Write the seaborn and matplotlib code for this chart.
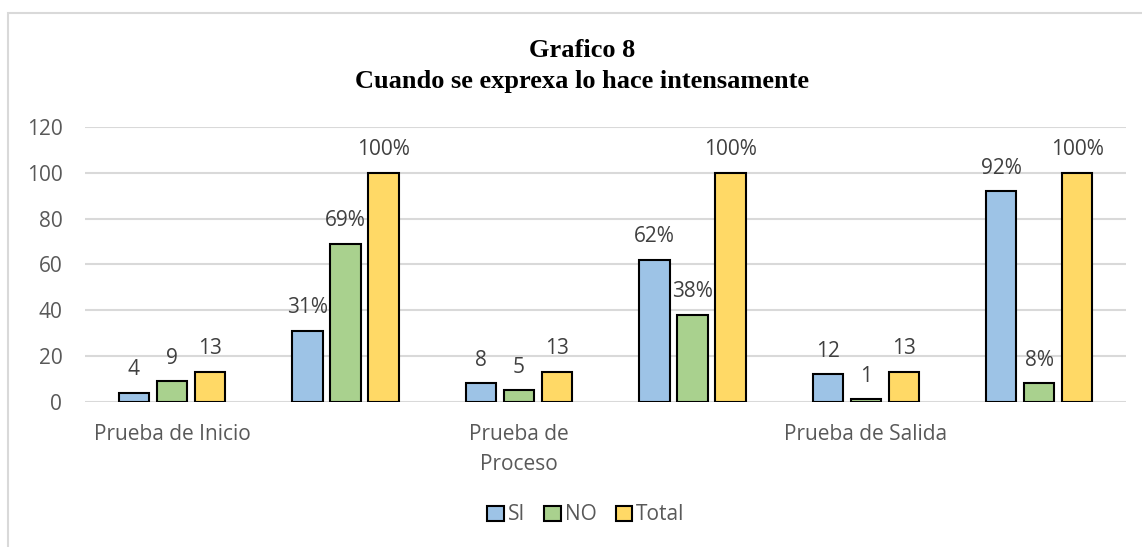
import matplotlib
matplotlib.use("Agg")
import matplotlib.pyplot as plt
import seaborn as sns
import pandas as pd
from matplotlib.patches import Rectangle

# Categories: count and percentage columns for each test
categories = ["Prueba de Inicio", "Inicio %", "Prueba de\nProceso", "Proceso %",
              "Prueba de Salida", "Salida %"]
tick_labels = ["Prueba de Inicio", "", "Prueba de\nProceso", "", "Prueba de Salida", ""]
is_percent = [False, True, False, True, False, True]
series = ["SI", "NO", "Total"]
si_values = [4, 31, 8, 62, 12, 92]
no_values = [9, 69, 5, 38, 1, 8]
total_values = [13, 100, 13, 100, 13, 100]
colors = ["#9DC3E6", "#A9D18E", "#FFD966"]

rows = []
for s, vals in zip(series, [si_values, no_values, total_values]):
    for c, v in zip(categories, vals):
        rows.append({"cat": c, "serie": s, "valor": v})
df = pd.DataFrame(rows)

sns.set_theme(style="white")
plt.rcParams["font.family"] = ["Open Sans", "DejaVu Sans"]

W, H = 1142, 547
fig = plt.figure(figsize=(W / 100, H / 100), dpi=100)
ax = fig.add_axes([85.25 / W, 0.2656, 0.9113, 0.5024])

sns.barplot(data=df, x="cat", y="valor", hue="serie", order=categories,
            hue_order=series, palette=colors, saturation=1, width=0.657, gap=0.2,
            edgecolor="black", linewidth=1.5, ax=ax, legend=True)

ax.set_ylim(0, 120)
ax.set_yticks(range(0, 121, 20))
ax.yaxis.grid(True, color="#D9D9D9", linewidth=1.5)
ax.set_axisbelow(True)
for sp in ax.spines.values():
    sp.set_visible(False)
ax.set_xlabel("")
ax.set_ylabel("")
ax.set_xticks(range(len(categories)))
ax.set_xticklabels(tick_labels, linespacing=1.55)
ax.tick_params(axis="both", colors="#595959", labelsize=15, length=0)
ax.tick_params(axis="x", pad=16)
ax.tick_params(axis="y", pad=16.5)

# Value labels: counts for plain columns, percentages for % columns
for container in ax.containers:
    labels = []
    for bar, pct in zip(container, is_percent):
        v = bar.get_height()
        labels.append(f"{v:.0f}%" if pct else f"{v:.0f}")
    ax.bar_label(container, labels=labels, padding=9, fontsize=15, color="#404040")

leg = ax.legend(loc="center", bbox_to_anchor=(586 / W, 1 - 515 / H),
                bbox_transform=fig.transFigure, ncol=3, frameon=False, fontsize=15,
                handlelength=0.8, handleheight=0.7, handletextpad=0.2,
                columnspacing=0.9, borderaxespad=0, borderpad=0)
for t in leg.get_texts():
    t.set_color("#595959")

fig.text(582 / W, 1 - 57 / H, "Grafico 8", ha="center", va="baseline",
         fontfamily="Liberation Serif", fontweight="bold", fontsize=19, color="black")
fig.text(582 / W, 1 - 88 / H, "Cuando se exprexa lo hace intensamente", ha="center",
         va="baseline", fontfamily="Liberation Serif", fontweight="bold", fontsize=19,
         color="black")

# Chart frame
fig.add_artist(Rectangle((8 / W, -0.01), 1.2, 1 - 12.7 / H + 0.01,
                         transform=fig.transFigure, fill=False,
                         edgecolor="#D9D9D9", linewidth=1.5))

fig.savefig("out.png", dpi=100)
